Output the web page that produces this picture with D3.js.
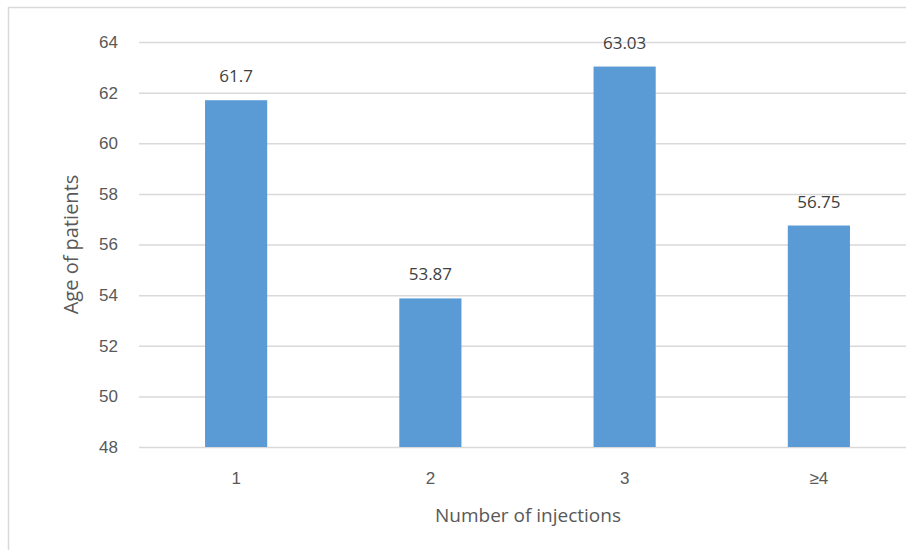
<!DOCTYPE html>
<html>
<head>
<meta charset="utf-8">
<script src="https://cdn.jsdelivr.net/npm/d3@7"></script>
<style>
  body { margin: 0; background: #fff; }
  svg { display: block; font-family: "Open Sans", "Liberation Sans", sans-serif; }
</style>
</head>
<body>
<div id="chart"></div>
<script>
// chart data
const categories = ["1", "2", "3", "≥4"];
const ages = [61.7, 53.87, 63.03, 56.75];
const labels = ["61.7", "53.87", "63.03", "56.75"];
const yTicks = [48, 50, 52, 54, 56, 58, 60, 62, 64];

const svgWidth = 906, svgHeight = 550;
const margin = { top: 42, right: -10, bottom: 103, left: 139 };
const width = svgWidth - margin.left - margin.right;
const height = svgHeight - margin.top - margin.bottom;

const svg = d3.select("#chart").append("svg")
    .attr("width", svgWidth)
    .attr("height", svgHeight);

// outer frame (runs off the right and bottom edge like the source image)
svg.append("rect")
    .attr("x", 8.5).attr("y", 7.5)
    .attr("width", 930).attr("height", 580)
    .attr("fill", "none")
    .attr("stroke", "#d9d9d9")
    .attr("stroke-width", 1.5);

const g = svg.append("g")
    .attr("transform", "translate(" + margin.left + "," + margin.top + ")");

const x = d3.scaleBand().domain(categories).range([0, width])
    .paddingInner(0.68).paddingOuter(0.34);
const y = d3.scaleLinear().domain([48, 64]).range([height, 0]);

// gridlines
g.append("g").attr("class", "grid")
    .call(d3.axisLeft(y).tickValues(yTicks).tickSize(-width).tickFormat(""))
    .call(s => s.select(".domain").remove())
    .call(s => s.selectAll("line").attr("stroke", "#d9d9d9").attr("stroke-width", 1.5));

// y axis labels
g.append("g").attr("class", "y axis")
    .call(d3.axisLeft(y).tickValues(yTicks).tickSize(0).tickPadding(21))
    .call(s => s.select(".domain").remove())
    .call(s => s.selectAll("text").attr("fill", "#595959").style("font-size", "17px"));

// x axis labels
g.append("g").attr("class", "x axis")
    .attr("transform", "translate(0," + height + ")")
    .call(d3.axisBottom(x).tickSize(0).tickPadding(25))
    .call(s => s.select(".domain").remove())
    .call(s => s.selectAll("text").attr("fill", "#595959").style("font-size", "17px"));

// bars
g.selectAll(".bar").data(ages).enter().append("rect")
    .attr("class", "bar")
    .attr("x", (d, i) => x(categories[i]))
    .attr("width", x.bandwidth())
    .attr("y", d => y(d))
    .attr("height", d => height - y(d))
    .attr("fill", "#5b9bd5");

// value labels
g.selectAll(".value").data(ages).enter().append("text")
    .attr("class", "value")
    .attr("x", (d, i) => x(categories[i]) + x.bandwidth() / 2)
    .attr("y", d => y(d) - 18)
    .attr("text-anchor", "middle")
    .attr("fill", "#404040")
    .style("font-size", "17px")
    .text((d, i) => labels[i]);

// axis titles
svg.append("text")
    .attr("transform", "translate(78," + (margin.top + height / 2) + ") rotate(-90)")
    .attr("text-anchor", "middle")
    .attr("fill", "#595959")
    .style("font-size", "20px")
    .text("Age of patients");

svg.append("text")
    .attr("x", 528)
    .attr("y", 522)
    .attr("text-anchor", "middle")
    .attr("fill", "#595959")
    .style("font-size", "19px")
    .text("Number of injections");
</script>
</body>
</html>
